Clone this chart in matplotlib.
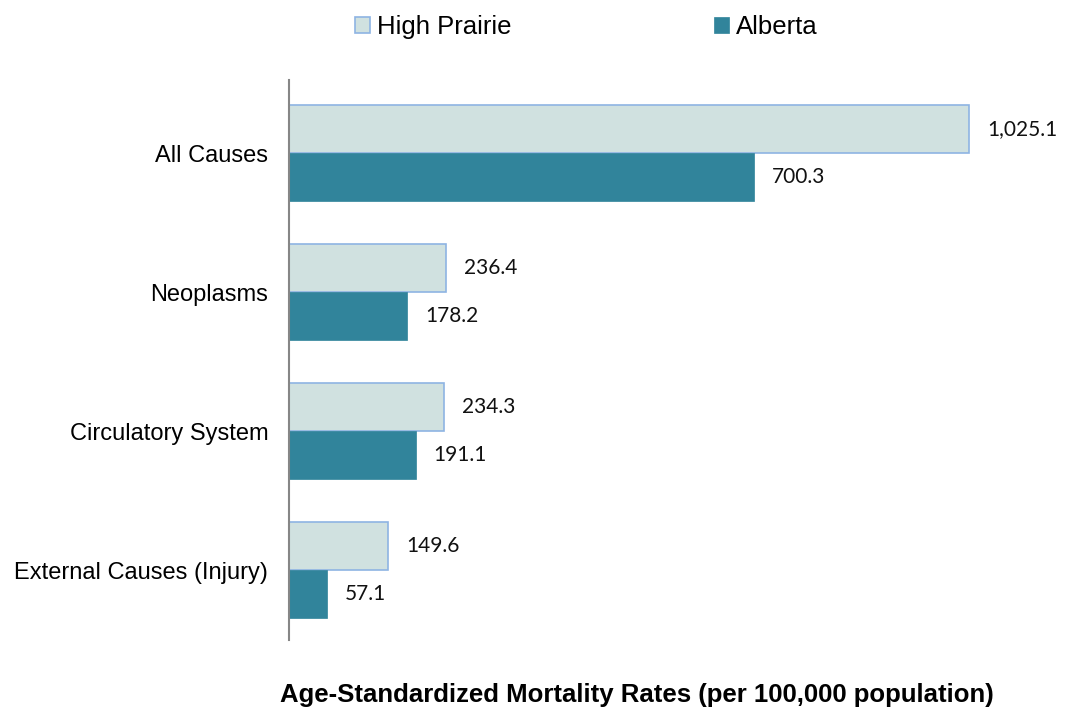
import numpy as np
import matplotlib
matplotlib.use('Agg')
import matplotlib.pyplot as plt


categories = ['All Causes', 'Neoplasms', 'Circulatory System', 'External Causes (Injury)']
high_prairie = [1025.1, 236.4, 234.3, 149.6]
alberta = [700.3, 178.2, 191.1, 57.1]
series_names = ['High Prairie', 'Alberta']


def fmt(v):
	return '{:,.1f}'.format(v)


def main():
	fig = plt.figure(figsize=(10.72, 7.09), dpi=100)
	ax = fig.add_axes([0.2696, 0.0973, 0.7304, 0.7898])

	y = np.arange(len(categories))
	h = 0.345

	b1 = ax.barh(y - h / 2, high_prairie, height=h, color='#D0E1E0',
		edgecolor='#8EB4E3', linewidth=1.2, label=series_names[0])
	b2 = ax.barh(y + h / 2, alberta, height=h, color='#31849B',
		edgecolor='#31849B', linewidth=0.5, label=series_names[1])

	for bars, vals in [(b1, high_prairie), (b2, alberta)]:
		for bar, v in zip(bars, vals):
			ax.text(v + 27, bar.get_y() + bar.get_height() / 2, fmt(v),
				va='center', ha='left', fontsize=15, family='Lato', color='#111111')

	ax.set_xlim(0, 1180)
	ax.set_ylim(3.5, -0.525)
	ax.set_yticks(y)
	ax.set_yticklabels(categories, fontsize=17, family='Liberation Sans')
	ax.tick_params(axis='y', length=0, pad=15)
	ax.set_xticks([])
	for s in ['top', 'right', 'bottom']:
		ax.spines[s].set_visible(False)
	ax.spines['left'].set_color('#868686')
	ax.spines['left'].set_linewidth(1.5)

	fig.legend(handles=[b1, b2], loc='center', bbox_to_anchor=(0.547, 0.962), ncol=2,
		frameon=False, prop={'family': 'Liberation Sans', 'size': 18.5},
		handlelength=0.58, handleheight=0.58, handletextpad=0.27, columnspacing=7.9,
		borderpad=0.1)

	fig.text(0.594, 0.02, 'Age-Standardized Mortality Rates (per 100,000 population)',
		ha='center', va='center', fontsize=18.5, fontweight='bold', family='Liberation Sans')

	fig.savefig('out.png', dpi=100)


if __name__ == '__main__':
	main()
